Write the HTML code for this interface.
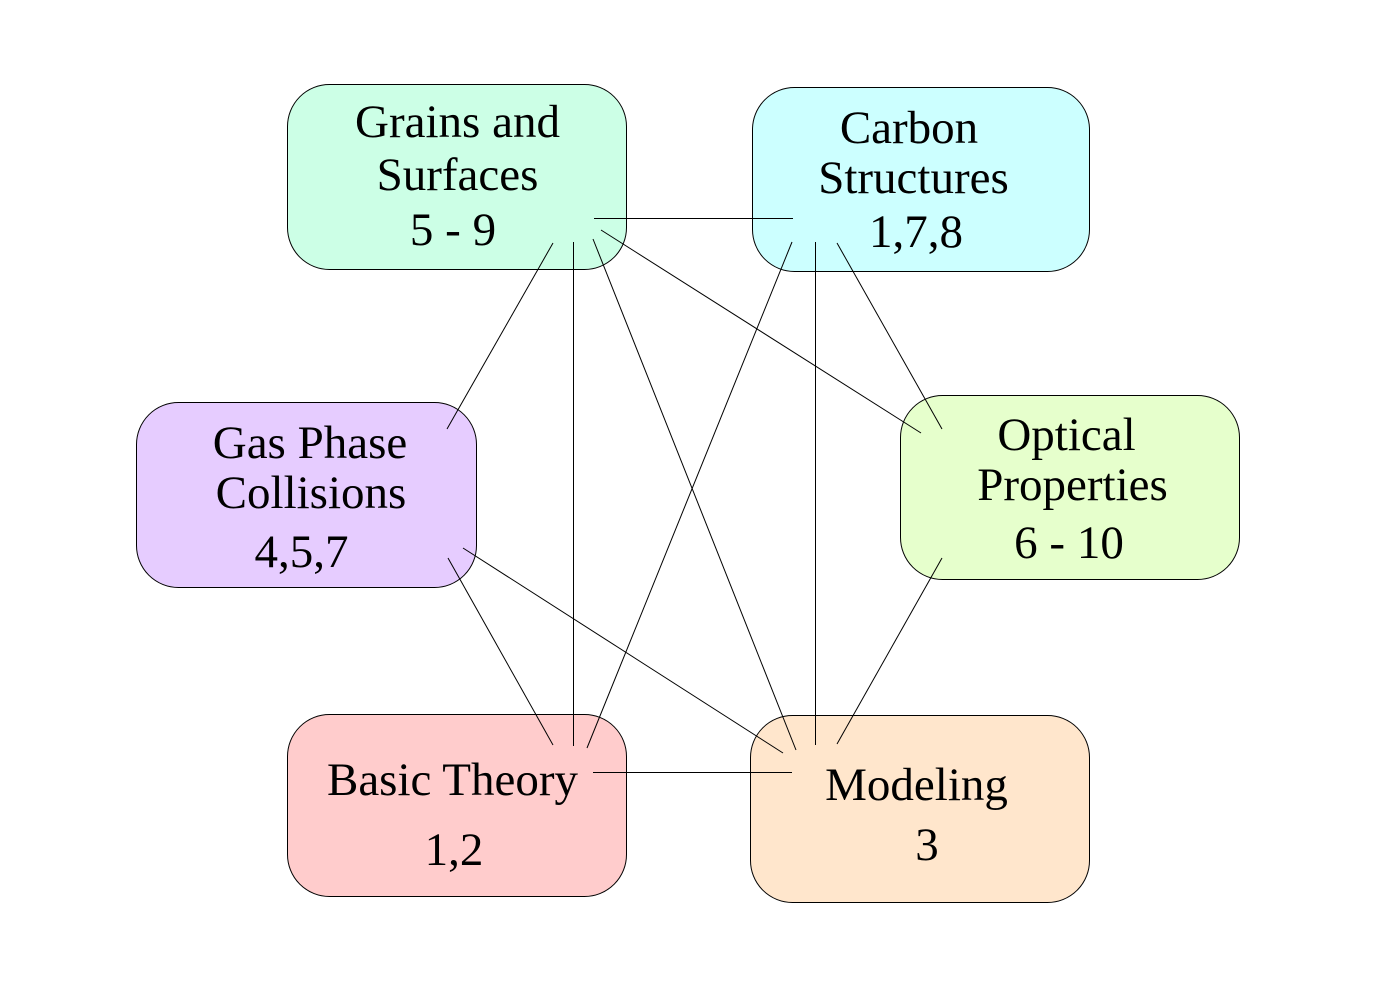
<!DOCTYPE html>
<html>
<head>
<meta charset="utf-8">
<style>
html,body{margin:0;padding:0;background:#fff;}
svg{display:block;}
text{font-family:"Liberation Serif","DejaVu Serif",serif;font-size:47px;fill:#000;}
</style>
</head>
<body>
<svg width="1396" height="985" viewBox="0 0 1396 985" xmlns="http://www.w3.org/2000/svg">
  <rect x="0" y="0" width="1396" height="985" fill="#ffffff"/>
  <!-- boxes -->
  <g stroke="#000" stroke-width="1">
    <rect x="287.5" y="84.5" width="339" height="185" rx="42" ry="42" fill="#ccffe6"/>
    <rect x="752.5" y="87.5" width="337" height="184" rx="42" ry="42" fill="#ccffff"/>
    <rect x="136.5" y="402.5" width="340" height="185" rx="42" ry="42" fill="#e6ccff"/>
    <rect x="900.5" y="395.5" width="339" height="184" rx="42" ry="42" fill="#e6ffcc"/>
    <rect x="287.5" y="714.5" width="339" height="182" rx="42" ry="42" fill="#ffcccc"/>
    <rect x="750.5" y="715.5" width="339" height="187" rx="42" ry="42" fill="#ffe6cc"/>
  </g>
  <!-- connectors -->
  <g stroke="#000" stroke-width="1" fill="none">
    <line x1="594" y1="218.5" x2="793" y2="218.5"/>
    <line x1="553" y1="243" x2="447" y2="429"/>
    <line x1="573.5" y1="242" x2="573.5" y2="746"/>
    <line x1="593" y1="239" x2="796" y2="750"/>
    <line x1="601" y1="230" x2="921" y2="433"/>
    <line x1="792" y1="242" x2="587" y2="748"/>
    <line x1="815.5" y1="242" x2="815.5" y2="745"/>
    <line x1="837" y1="243" x2="942" y2="429"/>
    <line x1="463" y1="548" x2="783" y2="753"/>
    <line x1="448" y1="558" x2="553" y2="745"/>
    <line x1="593" y1="772.5" x2="792" y2="772.5"/>
    <line x1="942" y1="558" x2="837" y2="744"/>
  </g>
  <!-- labels -->
  <g text-anchor="middle">
    <text x="457.5" y="137">Grains and</text>
    <text x="457.5" y="190">Surfaces</text>
    <text x="453" y="245">5 - 9</text>

    <text x="909" y="143">Carbon</text>
    <text x="913.5" y="193">Structures</text>
    <text x="916" y="247">1,7,8</text>

    <text x="310" y="458">Gas Phase</text>
    <text x="311" y="508">Collisions</text>
    <text x="301.5" y="567">4,5,7</text>

    <text x="1066.5" y="450">Optical</text>
    <text x="1072.5" y="500">Properties</text>
    <text x="1069" y="558">6 - 10</text>

    <text x="452.5" y="795">Basic Theory</text>
    <text x="454" y="865">1,2</text>

    <text x="916.5" y="800">Modeling</text>
    <text x="927" y="860">3</text>
  </g>
</svg>
</body>
</html>
